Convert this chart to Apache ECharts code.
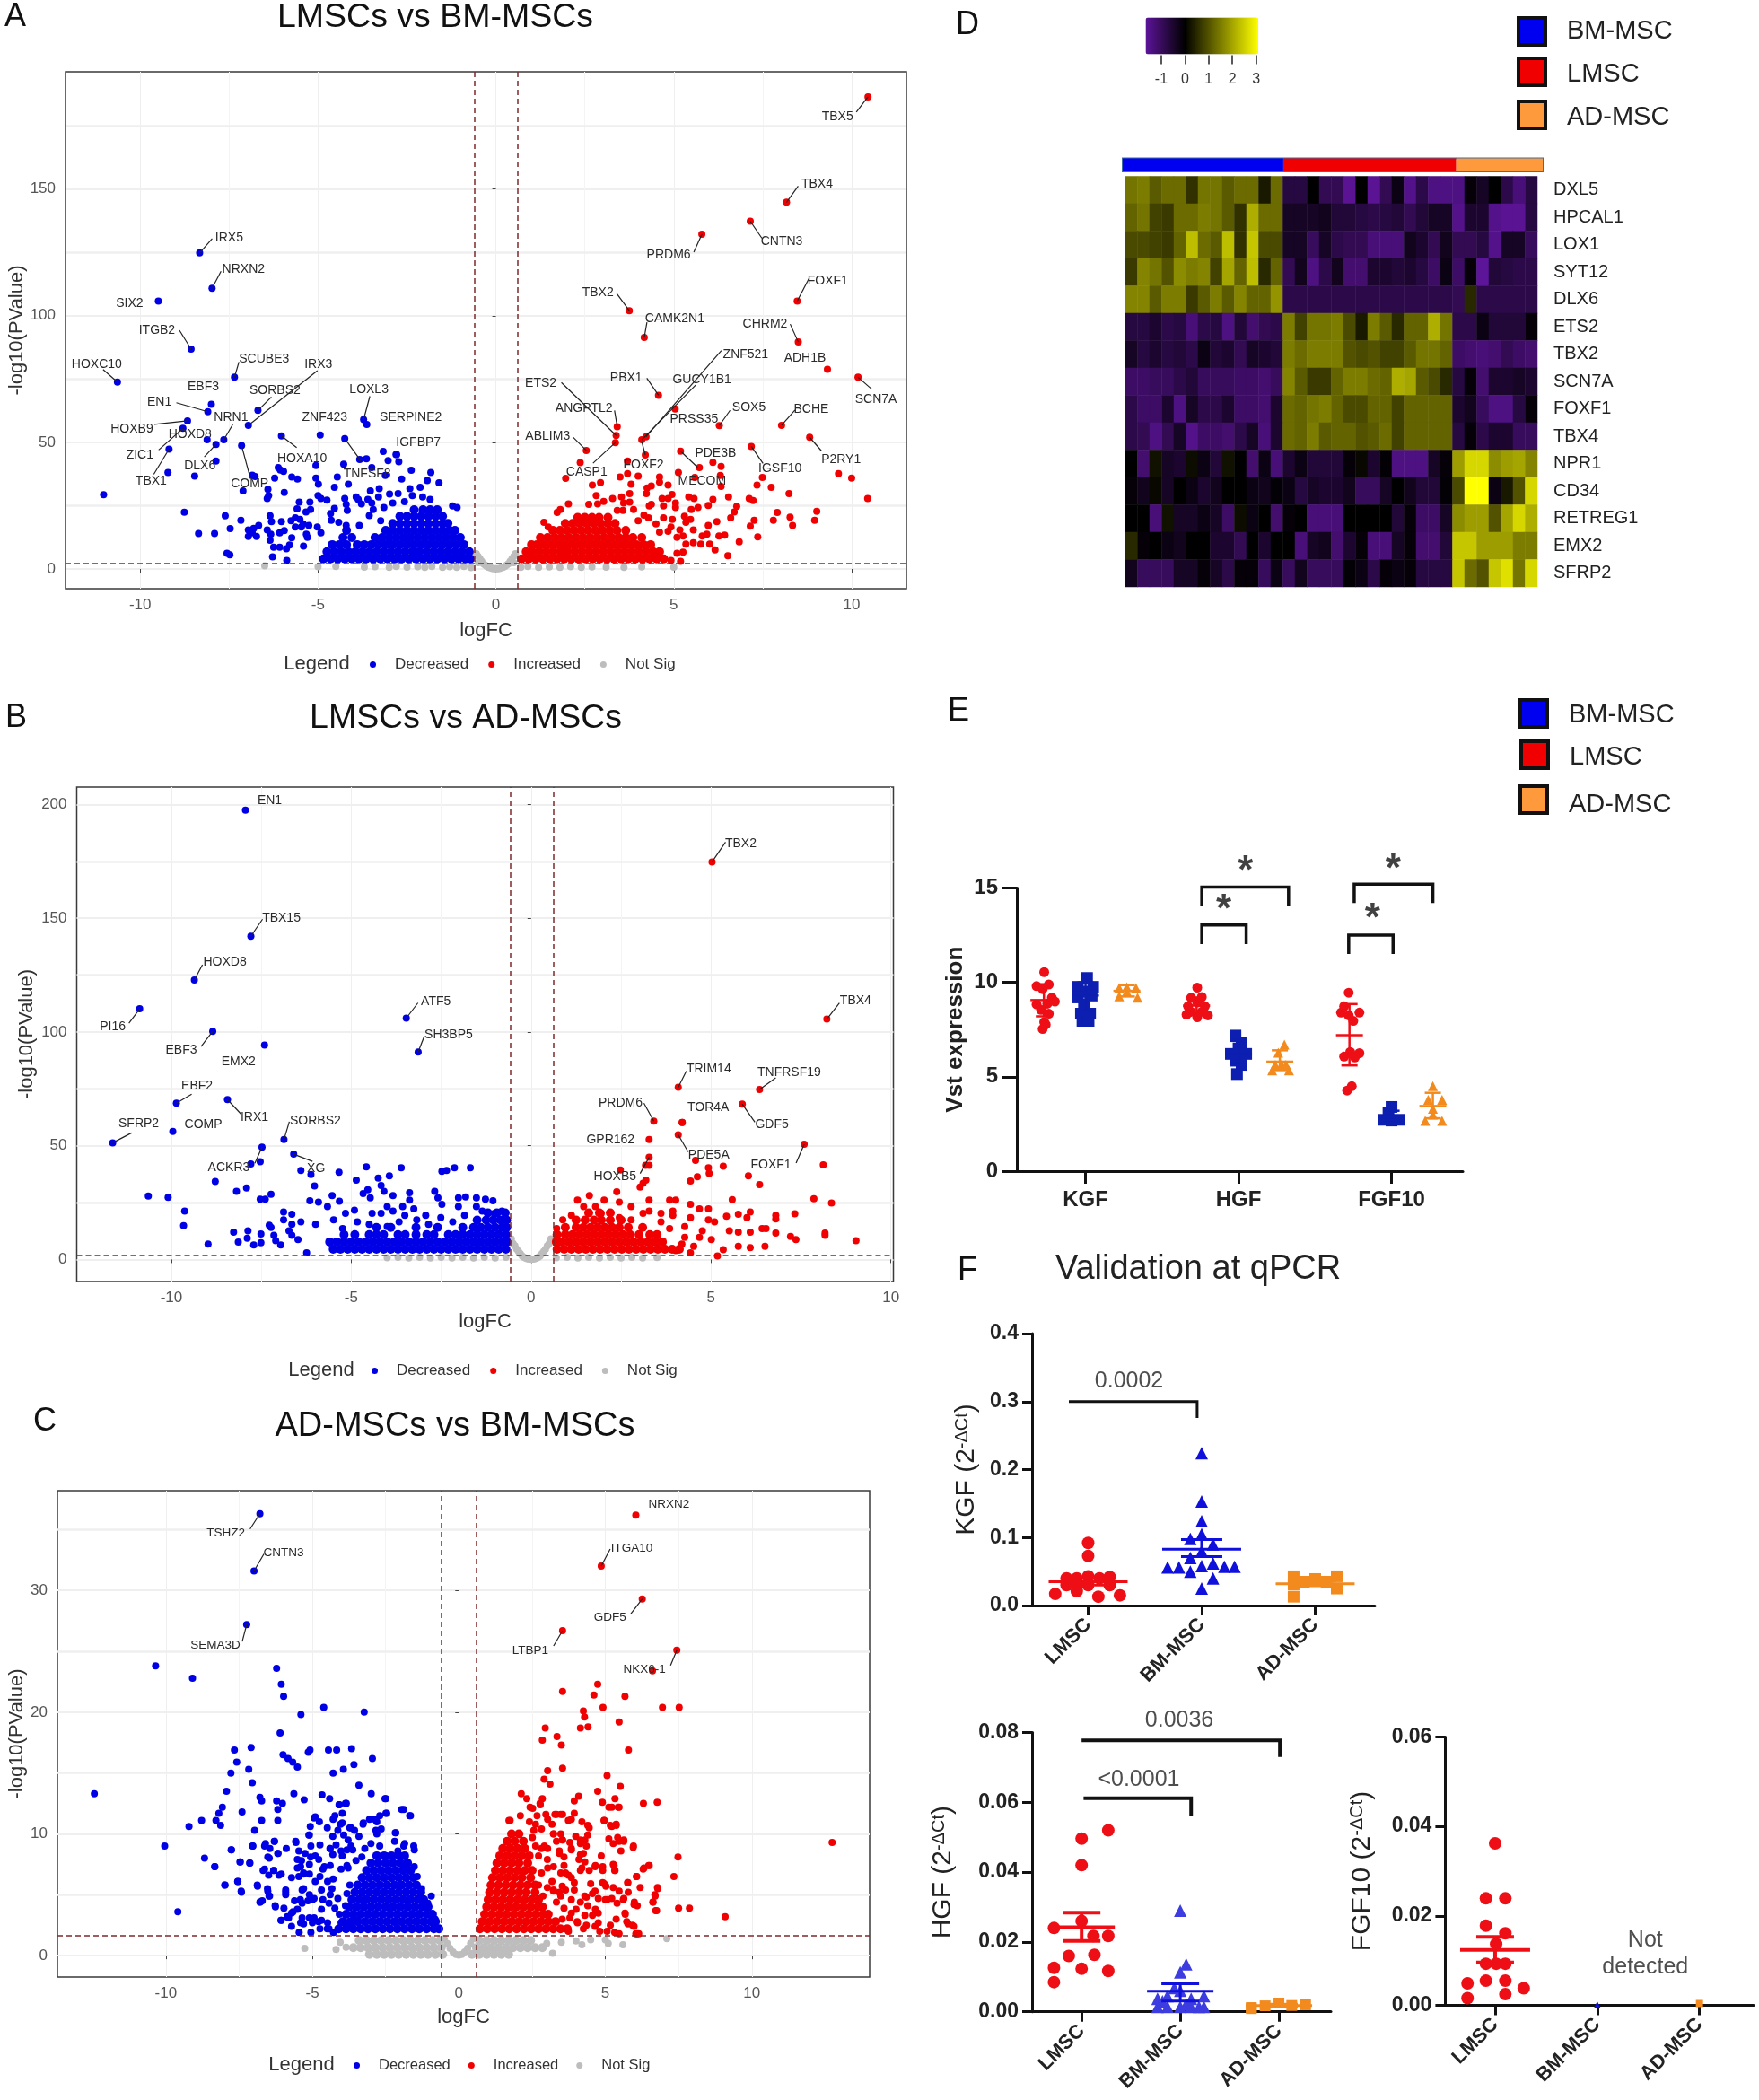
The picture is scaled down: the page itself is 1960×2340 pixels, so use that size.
<!DOCTYPE html>
<html>
<head>
<meta charset="utf-8">
<title>MSC volcano, heatmap and qPCR panels</title>
<script src="https://cdn.jsdelivr.net/npm/echarts@6/dist/echarts.min.js"></script>
<style>
body { margin: 0; background: #fff; }
#chart { width: 1960px; height: 2340px; }
</style>
</head>
<body>
<div id="chart"></div>
<script>
// ---- panel A: LMSCs vs BM-MSCs ----
const genesA = [['TBX5',10.46,186.4],['TBX4',8.17,144.8],['CNTN3',7.15,137.3],['PRDM6',5.79,132.2],['FOXF1',8.47,105.8],['TBX2',3.75,102],['CAMK2N1',4.17,91.4],['CHRM2',8.5,89.6],['ZNF521',4.22,52.2],['GUCY1B1',4.1,51],['PBX1',4.57,68.6],['ADH1B',9.32,78.8],['SCN7A',10.18,75.7],['ETS2',3.38,52.7],['ANGPTL2',3.41,56.2],['PRSS35',5.04,63.2],['SOX5',6.28,56.6],['BCHE',8.03,56.7],['ABLIM3',2.54,46.8],['CASP1',3.36,49.9],['FOXF2',4.2,45],['PDE3B',6.1,42.1],['MECOM',5.19,46.5],['IGSF10',7.18,48.4],['P2RY1',8.82,52],
  ['IRX5',-8.33,124.8],['NRXN2',-7.98,110.8],['SIX2',-9.49,105.8],['ITGB2',-8.57,86.8],['HOXC10',-10.64,73.8],['SCUBE3',-7.35,75.7],['EBF3',-8,65],['EN1',-8.1,62.1],['SORBS2',-6.69,62.6],['IRX3',-6.96,56.7],['NRN1',-7.65,51],['HOXB9',-8.67,58.5],['HOXD8',-8.12,51],['ZIC1',-8.8,55.5],['TBX1',-9.19,47.3],['DLX6',-7.87,49.2],['COMP',-7.15,48.7],['ZNF423',-4.94,52.9],['HOXA10',-6.03,52.5],['LOXL3',-3.72,59],['SERPINE2',-3.63,57],['IGFBP7',-2.81,45.2],['TNFSF8',-4.25,51.5]];
const labelPosA = {TBX5:[-34,22,-13,17],TBX4:[34,-20,13,-18],CNTN3:[35,23,13,19],PRDM6:[-37,23,-9,20],FOXF1:[34,-22,13,-25],TBX2:[-35,-20,-14,-19],CAMK2N1:[34,-21,3,-17],CHRM2:[-37,-20,-9,-20],ZNF521:[111,-92,84,-96],GUCY1B1:[67,-67,60,-61],PBX1:[-36,-19,-13,-19],ADH1B:[-25,-12],SCN7A:[20,25,15,13],ETS2:[-84,-58,-61,-59],ANGPTL2:[-37,-20,-3,-18],PRSS35:[21,12],SOX5:[33,-20,12,-17],BCHE:[33,-18,15,-17],ABLIM3:[-43,-16,-15,-15],CASP1:[-32,33,-25,23],FOXF2:[-2,11,-4,-15],PDE3B:[3,-10],MECOM:[24,33,19,18],IGSF10:[32,25,13,19],P2RY1:[35,25,13,15],
  IRX5:[33,-17,14,-16],NRXN2:[35,-21,10,-19],SIX2:[-32,3],ITGB2:[-38,-21,-13,-21],HOXC10:[-23,-20,-16,-14],SCUBE3:[33,-20,5,-17],EBF3:[-9,-19],EN1:[-54,-11,-35,-10],SORBS2:[19,-22,15,-15],IRX3:[78,-68,77,-61],NRN1:[8,-25,10,-17],HOXB9:[-62,9,-37,4],HOXD8:[-19,-6],ZIC1:[-48,30,-27,24],TBX1:[-20,36,-17,28],DLX6:[-18,24,-13,14],COMP:[9,43,10,37],ZNF423:[5,-20],HOXA10:[23,25,17,13],LOXL3:[6,-33,7,-26],SERPINE2:[49,-8],IGFBP7:[25,-13],TNFSF8:[25,39,18,25]};
const decA = [[-9.22,38.1],[-8.47,36.7],[-7.87,42.6],[-11.03,29.3],[-8.76,22.4],[-8.36,14],[-7.91,14],[-7.61,21],[-7.47,15.9],[-7.17,19.2],[-7.56,6.2],[-7.48,5.6],[-6.96,15.4],[-6.85,14.3],[-6.67,17.2],[-6.73,12.8],[-6.96,12.8],[-6.81,16],[-6.35,21],[-6.31,18.7],[-6.03,18.7],[-6.43,15.4],[-6.33,13.7],[-6.35,11.3],[-6.08,14.3],[-5.95,15.1],[-5.76,19],[-6.25,8.6],[-6.08,8.6],[-6.28,4.8],[-5.88,3.4],[-5.8,9.5],[-5.89,8],[-5.74,12.3],[-5.64,20.2],[-5.51,19.6],[-5.42,17.8],[-5.64,16.6],[-5.47,16.6],[-5.26,17.2],[-5.33,13.7],[-5.3,12.5],[-5.41,9],[-5.53,26.4],[-5.59,23.7],[-5.34,22.5],[-5.21,23.5],[-5.23,26.4],[-5.95,30.2],[-6.41,31.4],[-6.39,29],[-6.43,27.8],[-7.11,30.8],[-6.85,37],[-6.77,36.5],[-6.12,40],[-6.06,39.1],[-5.97,38.5],[-6.22,35.9],[-5.74,36.3],[-5.58,35.5],[-5.06,40.8],[-5.06,35.9],[-4.99,33.5],[-4.46,36.3],[-4.54,32.2],[-4.15,33.5],[-4.28,41.4],[-5,29],[-4.92,27.8],[-4.75,27.2],[-3.64,43.5],[-3.83,43.2],[-3.17,46.4],[-2.79,45.2],[-3.03,42.8],[-2.73,42.3],[-3.49,40],[-3.11,36.9],[-2.38,39],[-1.83,38.1],[-2.65,35.5],[-1.93,34.9],[-1.6,34],[-3.53,30.8],[-3.28,31.7],[-3.3,28.4],[-2.99,29.6],[-2.75,29.8],[-2.42,31.7],[-2.13,32.2],[-1.22,24.9],[-1.09,24.3],[-4.25,27.8],[-3.93,28.4],[-3.87,27.5],[-3.6,27.5],[-3.78,25.7],[-4.21,25.5],[-4.18,23.1],[-4.54,23.9],[-4.65,21.9],[-4.63,19.2],[-4.42,18.4],[-4.21,17.2],[-3.84,17.2],[-5.02,16.6],[-4.92,14.3],[-3.49,26],[-3.45,23.5],[-3.15,24.3],[-3.56,21.1],[-3.24,19],[-2.9,26],[-2.57,26.6],[-2.35,29],[-2.06,28.4],[-1.85,27.5]];
const decCoreA = [[4,-4.85,-4.65,-4.45,-4.25,-4.05,-3.85,-3.65,-3.45,-3.25,-3.05,-2.85,-2.65,-2.45,-2.25,-2.05,-1.85,-1.65,-1.45,-1.25,-1.05,-.85,-.72],[6.8,-4.75,-4.55,-4.35,-4.15,-3.95,-3.75,-3.55,-3.35,-3.15,-2.95,-2.75,-2.55,-2.35,-2.15,-1.95,-1.75,-1.55,-1.35,-1.15,-.95,-.75],[9.6,-4.6,-4.4,-4.2,-3.9,-3.7,-3.5,-3.3,-3.1,-2.9,-2.7,-2.5,-2.3,-2.1,-1.9,-1.7,-1.5,-1.3,-1.1,-.9],[12.4,-4.3,-4.05,-3.4,-3.2,-3,-2.8,-2.6,-2.4,-2.2,-2,-1.8,-1.6,-1.4,-1.2,-1],[15.2,-4.2,-3.1,-2.9,-2.7,-2.5,-2.3,-2.1,-1.9,-1.7,-1.5,-1.3,-1.15],[18,-2.9,-2.7,-2.5,-2.3,-2.1,-1.9,-1.7,-1.5,-1.35],[20.8,-2.7,-2.5,-2.3,-2.1,-1.9,-1.7,-1.5],[23.4,-2.3,-2.05,-1.85,-1.65]];
const incA = [[2.37,42],[1.96,35.8],[2.71,33.1],[2.94,34.1],[3.7,42.6],[3.7,37.6],[3.49,36.3],[4,36.7],[3.8,33.5],[4.6,36.3],[4.6,34.3],[4.84,33.1],[4.37,32.8],[4.25,32],[4.23,29.8],[3.76,29.8],[5.72,40],[6.33,40.5],[6.31,36.9],[5.59,36.1],[5.13,38.1],[6.33,32.6],[7.49,36.1],[7.34,33.1],[7.74,32.2],[8.24,29.8],[9.63,37.6],[10,35.9],[10.45,27.8],[6.54,28.4],[6.1,27.5],[5.97,25.1],[5.68,24.3],[5.49,23.5],[5.42,28.4],[5.57,27.8],[7.12,27.8],[7.23,27],[6.77,24.7],[6.7,22.5],[6.6,20.2],[7.26,19.2],[7.15,16.9],[7.91,22.3],[7.8,19.2],[8.27,20.5],[8.34,17.2],[9.02,22.8],[8.96,19.2],[7.36,12.7],[6.84,10.7],[6.21,18.7],[5.97,17.2],[5.93,13.7],[5.8,13],[6.27,13],[6.43,13.4],[6.16,7.5],[6.52,5.2],[5.55,15.4],[5.55,10.4],[5.76,9.8],[6.01,9.8],[5.34,9.8],[5.26,6.6],[5.09,6.2],[5.19,3],[4.92,3.4],[4.84,14.9],[4.96,19.6],[5.3,20.8],[5.47,19.6],[5.34,18.4],[4.71,20.2],[4.92,16.6],[5.09,12.5],[5.26,13],[5.17,15.4],[4.6,14.5],[4.84,27.8],[4.95,29.4],[5.05,26],[5.05,24.3],[4.67,27.8],[4.71,24.9],[4.37,25.5],[4.31,24.9],[3.76,26.4],[3.53,28.4],[3.59,26],[3.28,27.8],[3.03,26.7],[2.82,29],[2.61,25.5],[2.86,25.7],[2.04,25.7],[1.81,23.5],[1.72,22.3],[1.35,18.4],[1.47,16.6],[3.57,23.1],[3.41,23.1],[3.87,23.5],[4.16,21.3],[4.29,20.2],[4.5,17.8],[4,19]];
const incCoreA = [[4,.72,.92,1.12,1.32,1.52,1.72,1.92,2.12,2.32,2.52,2.72,2.92,3.12,3.32,3.52,3.72,3.92,4.12,4.32,4.52,4.72],[6.8,.85,1.02,1.22,1.42,1.62,1.82,2.02,2.22,2.42,2.62,2.82,3.02,3.22,3.42,3.62,3.82,4.02,4.22,4.42,4.6],[9.6,1,1.15,1.35,1.55,1.75,1.95,2.15,2.35,2.55,2.75,2.95,3.15,3.35,3.55,3.75,3.95,4.15,4.35],[12.4,1.25,1.45,1.65,1.85,2.05,2.25,2.45,2.65,2.85,3.05,3.25,3.45,3.65,3.85,4.1],[15.2,1.6,1.8,2,2.2,2.4,2.6,2.8,3,3.2,3.4,3.65],[18,1.95,2.15,2.35,2.55,2.75,2.95,3.15,3.35],[20.4,2.3,2.5,2.7,2.9,3.15]];
const notSigA = [[-.55,6],[-.5,5],[-.45,4],[-.5,2.5],[-.4,3],[-.35,2],[-.3,1.5],[-.25,1],[-.2,.6],[-.15,.4],[-.1,.2],[-.05,.1],[0,.1],[.05,.1],[.1,.2],[.15,.4],[.2,.6],[.25,1],[.3,1.5],[.35,2],[.4,3],[.45,4],[.5,5],[.55,6],[.5,2.5],[-6.5,1.2],[-5,.9],[-4.5,1],[-3.7,.7],[-3.4,.9],[-3,.6],[-2.8,1],[-2.5,.7],[-2.2,.9],[-2,.6],[-1.8,1],[-1.5,.6],[-1.3,.9],[-1.1,.6],[-.9,1],[-.7,.5],[.7,.6],[.9,1],[1.2,.6],[1.5,.8],[1.8,.6],[2.1,.9],[2.4,.6],[2.7,.8],[3.1,.7],[3.6,.6],[4.1,.8],[5,.7]];

// ---- panel B: LMSCs vs AD-MSCs ----
const genesB = [['EN1',-7.94,197.5],['TBX15',-7.79,142.1],['HOXD8',-9.36,122.9],['PI16',-10.88,110.2],['EBF3',-8.85,100.3],['EMX2',-7.41,94.3],['ATF5',-3.47,106.1],['SH3BP5',-3.14,91.2],['EBF2',-9.86,68.7],['IRX1',-8.44,70.3],['COMP',-9.96,56.3],['SFRP2',-11.63,51.3],['SORBS2',-6.87,52.7],['XG',-6.6,46.3],['ACKR3',-7.48,49.4],
  ['TBX2',5.03,174.8],['TBX4',8.22,105.7],['TRIM14',4.09,75.7],['TNFRSF19',6.35,74.7],['TOR4A',4.2,60.2],['GDF5',5.87,68.3],['PRDM6',3.41,60.8],['GPR162',3.28,52.7],['PDE5A',4.09,54.8],['FOXF1',7.59,50.7],['HOXB5',3.28,44.9]];
const labelPosB = {EN1:[27,-11],TBX15:[34,-20,13,-19],HOXD8:[34,-20,9,-17],PI16:[-30,20,-12,16],EBF3:[-35,21,-13,17],EMX2:[-29,19],ATF5:[33,-18,13,-17],SH3BP5:[34,-19,7,-18],EBF2:[23,-19,17,-10],IRX1:[30,20,15,16],COMP:[34,-8],SFRP2:[29,-21,21,-11],SORBS2:[35,-21,6,-20],XG:[25,16,21,8],ACKR3:[-37,23,-8,18],TBX2:[32,-20,15,-22],TBX4:[32,-20,14,-18],TRIM14:[34,-20,9,-18],TNFRSF19:[33,-19,18,-13],TOR4A:[29,-17],GDF5:[33,23,14,20],PRDM6:[-37,-20,-11,-20],GPR162:[-43,0],PDE5A:[34,23,11,19],FOXF1:[-37,23,-9,21],HOXB5:[-38,22,-10,18]};
const decB = [[-7.53,43],[-7.79,42],[-6.4,39.1],[-6.12,37.4],[-5.34,38.3],[-4.58,40.7],[-3.61,40.3],[-2.48,38.7],[-2.35,39.1],[-2.13,40.3],[-1.69,40.3],[-4.25,35.8],[-3.94,36.8],[-4.86,34.9],[-4.17,32.5],[-6.02,32.3],[-8.78,34.3],[-8.19,30],[-7.91,31.4],[-7.23,28.7],[-7.53,26.5],[-7.39,26.5],[-10.64,27.9],[-10.09,27.3],[-9.63,21.3],[-9.66,14.9],[-8.98,6.8],[-8.27,12],[-8.14,7.7],[-7.87,12.6],[-7.89,9.3],[-7.71,6.4],[-7.51,11.2],[-7.51,7.4],[-7.28,15.1],[-7.23,14.1],[-7.15,10.6],[-7.1,8.3],[-6.96,6.4],[-6.88,20.9],[-6.65,19.9],[-6.88,17.4],[-6.65,15.5],[-6.4,16.5],[-6.73,12.6],[-6.65,10.6],[-6.48,8.7],[-6.24,2.9],[-6.15,25.8],[-5.91,25.2],[-5.66,23.2],[-5.33,25.6],[-5.53,28.1],[-5.16,20.3],[-4.91,21.7],[-4.67,29],[-4.54,30.6],[-4.47,27.1],[-4.09,30],[-3.84,28.1],[-3.38,29.4],[-3.38,26.1],[-3.57,23.2],[-2.68,30],[-2.59,27.1],[-2.48,24.2],[-2.02,27.1],[-1.52,27.1],[-1.52,23.2],[-1.82,27.5],[-1.27,26.5],[-1.06,25.8],[-.81,21.3],[-4.83,16.5],[-4.42,20.3],[-4.17,20.3],[-4,23.2],[-3.84,21.3],[-3.26,22.3],[-3.51,19.4],[-2.93,19.4],[-3.18,17.4],[-2.85,15.5],[-2.51,18.4],[-2.18,16.5],[-1.85,19.4],[-1.36,21.3],[-1.02,20.3],[-2.02,23.2],[-5.99,15.5],[-5.49,17.4],[-5.24,13.6],[-4.5,15.5],[-4,14.5],[-3.67,16.5]];
const decCoreB = [[4.5,-5.5,-5.3,-5.1,-4.9,-4.7,-4.5,-4.3,-4.1,-3.9,-3.7,-3.5,-3.3,-3.1,-2.9,-2.7,-2.5,-2.3,-2.1,-1.9,-1.7,-1.5,-1.3,-1.1,-.9,-.7],[7.7,-5.6,-5.4,-5.2,-5,-4.8,-4.6,-4.4,-4.2,-4,-3.8,-3.6,-3.4,-3.2,-3,-2.8,-2.6,-2.4,-2.2,-2,-1.8,-1.6,-1.4,-1.2,-1,-.8,-.68],[10.9,-5.2,-4.9,-4.5,-4.3,-4.1,-3.7,-3.5,-3.2,-2.9,-2.7,-2.3,-2.1,-1.9,-1.7,-1.5,-1.3,-1.1,-.9,-.7],[14.1,-4.3,-3.9,-3.2,-2.6,-1.9,-1.6,-1.4,-1.2,-1,-.8,-.68],[17.3,-1.5,-1.25,-1.05,-.85,-.68],[20.5,-1.2,-.95,-.72]];
const incB = [[4.2,60.2],[3.28,41.4],[3.18,41.4],[2.48,39.3],[4.57,43.6],[4.93,40.3],[4.95,37.8],[5.34,41],[8.12,41.6],[6.04,36.8],[6.35,32.9],[4.62,36.4],[4.43,34.5],[3.19,34.9],[3.11,33.5],[3.03,31.8],[2.38,29.8],[5.59,26.3],[7.86,26.7],[8.35,24.8],[7.33,20.1],[6.8,19.4],[6.8,17.8],[6.09,20.9],[6,18.4],[5.76,19.9],[5.43,19],[4.93,22.3],[4.68,22.3],[4.43,24.2],[4.02,26.1],[3.85,26.1],[3.28,26.1],[6.8,11.6],[6.42,13.6],[6.53,13.6],[6.09,12],[5.76,12],[5.51,12.6],[7.21,10.1],[7.36,8.7],[8.17,11.6],[8.17,10.6],[9.03,8.3],[6.5,5.8],[6.09,5.2],[5.76,5.8],[5.34,4.3],[5.18,1.5],[5.01,8.7],[4.76,12.6],[5.1,16.5],[4.93,17.4],[4.43,18.4],[4.27,14.5],[3.94,19.4],[3.61,16.5],[3.28,21.3],[2.78,23.2],[2.45,25.2],[2.03,26.1],[1.62,28.1],[1.29,26.1],[1.79,23.2],[.88,17.4],[.71,13.6],[4.68,9.7],[4.52,5.8],[4.19,6.8],[4.43,2.9],[1.12,19.4],[1.46,23.2],[1.95,20.3],[2.45,18.4],[2.78,17.4],[3.11,20.3],[3.61,20.3],[3.94,21.3],[4.27,9.7],[3.85,13.6],[3.52,7.7],[4.02,3.9]];
const incCoreB = [[4.5,.72,.92,1.12,1.32,1.52,1.72,1.92,2.12,2.32,2.52,2.72,2.92,3.12,3.32,3.52,3.72,3.92,4.12],[7.7,.7,.85,1.05,1.25,1.45,1.65,1.85,2.05,2.25,2.45,2.65,2.85,3.05,3.25,3.45,3.65],[10.9,.72,.95,1.15,1.35,1.55,1.75,1.95,2.15,2.35,2.55,2.75,3,3.3,3.5],[14.1,.95,1.25,1.45,1.65,1.85,2.05,2.25,2.45,2.7,3.1],[17.3,1.25,1.5,1.75,1.95,2.2,2.5],[20.5,1.6,1.9,2.2]];
const notSigB = [[-.55,9],[-.5,7],[-.45,6],[-.4,4.5],[-.35,3.5],[-.3,2.5],[-.25,1.5],[-.2,1],[-.15,.6],[-.1,.3],[-.05,.2],[0,.1],[.05,.2],[.1,.3],[.15,.6],[.2,1],[.25,1.5],[.3,2.5],[.35,3.5],[.4,4.5],[.45,6],[.5,7],[.55,9],[-4,.8],[-3.7,1],[-3.4,.7],[-3.1,1],[-2.8,.7],[-2.5,1],[-2.2,.7],[-1.9,1],[-1.6,.7],[-1.3,1],[-1,.7],[-.7,1],[.7,.8],[1,1],[1.3,.7],[1.6,1],[1.9,.7],[2.2,1],[2.5,.7],[2.8,1],[3.1,.7],[3.5,.9]];

// ---- panel C: AD-MSCs vs BM-MSCs ----
const genesC = [['TSHZ2',-6.79,36.3],['CNTN3',-6.99,31.6],['SEMA3D',-7.24,27.2],['NRXN2',6.04,36.2],['ITGA10',4.86,32],['GDF5',6.26,29.3],['LTBP1',3.54,26.7],['NKX6-1',7.44,25.1]];
const labelPosC = {TSHZ2:[-38,22,-11,17],CNTN3:[33,-20,11,-19],SEMA3D:[-35,23,-5,19],NRXN2:[37,-12],ITGA10:[34,-20,10,-19],GDF5:[-36,21,-13,17],LTBP1:[-36,22,-10,17],'NKX6-1':[-36,22,-7,17]};
const decC = [[-10.35,23.8],[-9.09,22.8],[-6.22,23.6],[-6.06,22.3],[-5.98,21.3],[-4.61,20.4],[-5.39,19.8],[-3.23,20],[-6.1,18.3],[-7.66,16.9],[-7.09,17.1],[-7.58,15.9],[-7.17,15.3],[-7.78,15],[-7.05,14.2],[-7.93,13.5],[-12.44,13.3],[-6,16.5],[-5.83,16.2],[-5.67,15.9],[-5.51,15.5],[-5.14,16.7],[-5.08,16.9],[-4.45,16.9],[-4.17,16.9],[-3.66,17],[-3.58,15.7],[-4.29,15],[-3.94,15.3],[-2.95,16.2],[-3.41,14],[-2.99,13.3],[-2.52,12.9],[-5.63,13.3],[-5.28,12.8],[-4.67,13.2],[-4.41,12.9],[-3.84,12.5],[-4.09,12.4],[-1.95,12],[-1.65,11.5],[-6.79,13],[-6.73,12.7],[-6.22,12.7],[-6.02,12.5],[-6.18,12],[-6.73,11.1],[-6.18,11.1],[-8.07,12.2],[-8.19,11.7],[-8.29,11.1],[-8.78,11.1],[-8.13,10.7],[-9.21,10.6],[-7.4,11.8],[-6.97,10.3],[-10.04,9],[-7.76,8.7],[-7.03,9],[-6.63,9],[-6.3,9.4],[-8.68,8],[-8.33,7.3],[-7.46,7.7],[-7.13,7.6],[-6.52,8.1],[-6.18,8.4],[-6.63,7.1],[-6.32,7],[-6.06,6.7],[-7.99,5.8],[-7.54,6.1],[-7.42,5.2],[-6.87,5.7],[-6.71,4.5],[-6.79,4.4],[-6.52,5.3],[-6.46,4.9],[-6.26,4],[-9.59,3.6],[-6.06,2.9],[-5.91,5.2],[-5.81,3.1],[-5.57,9.4],[-5.1,9.9],[-4.9,11.4],[-4.49,10.5],[-4.29,11.2],[-4.04,10.8],[-3.68,10.5],[-3.27,10.8],[-2.87,11.2],[-2.46,11.7],[-2.83,10.3],[-2.15,10.1],[-1.54,9],[-1.85,9.2],[-5.51,7.9],[-5.1,7.5],[-5.3,6.8],[-4.9,8.2],[-4.59,7.3],[-5.71,6.4],[-5.3,5.5],[-4.9,6.1],[-4.39,8.8],[-4.29,6.3],[-5.41,4.6],[-5,4.6],[-5.51,3.8],[-5.1,3.1],[-4.69,3.8],[-5.71,3.5],[-5.3,2.6],[-4.79,2.8],[-4.49,2.2],[-4.39,5],[-3.98,8.2],[-3.68,9],[-3.78,7.2]];
const decFringeC = [[-5.45,1.9],[-5.71,2.4],[-6.07,2.9],[-5.86,3.2],[-5.66,3.6],[-5.97,3.9],[-5.35,3.1],[-5.4,2.7],[-5.05,1.9],[-5,2.7],[-4.94,3.1],[-4.69,2.9],[-4.48,2.7],[-4.28,1.9],[-4.74,2.2],[-4.43,2.2],[-4.02,2.7],[-4.08,3.4],[-4.23,3.9],[-4.13,4.7],[-4.43,4.3],[-4.64,4.6],[-4.94,4.7],[-5.15,4.5],[-5.35,4.3],[-5.1,5],[-5.35,5.4],[-5.91,5],[-5.91,5.4],[-5.61,4.5],[-6.27,4.1],[-6.78,4.4],[-6.48,4.9],[-6.53,5.5],[-4.74,6.5],[-4.48,6.1],[-4.33,5.5],[-4.69,5.4],[-5.1,6.7],[-5.3,6.7],[-5.46,6.5],[-5.4,7.3],[-5.51,7.2],[-5.37,7.8],[-4.64,7.1],[-4.39,7.4],[-4.02,7.1],[-3.82,7.4],[-3.51,7.8],[-3.31,8.1],[-4.02,8.6],[-3.82,8.7],[-3.62,8.7],[-4.3,8.3],[-4.4,8.8],[-4.19,9.1],[-5.05,9],[-4.74,9.1],[-5.56,9.3],[-5.46,8.6],[-5.25,8.4],[-5.06,8.1],[-4.78,7.9],[-3.21,8.8],[-3,9.2],[-2.7,9],[-2.49,8.2],[-2.08,8.6],[-1.88,9],[-1.52,8.7],[-2.19,9.4],[-2.17,10.1],[-3.41,9.8],[-3.72,10.5],[-3.56,10.3],[-3.26,10.9],[-3.05,11.2],[-2.8,11],[-2.65,10.4],[-2.8,10],[-3.93,9.9],[-3.78,9.5],[-4.3,9.8],[-4.13,10.3],[-3.98,10.9],[-5.07,10.6],[-5.12,9.9],[-4.76,11],[-4.94,11.3],[-4.23,11.5],[-3.98,11.7],[-4.08,12.4],[-3.87,12.5],[-1.68,11.5],[-1.88,12],[-2.49,12.9],[-2.7,11.5],[-2.49,11.7],[-1.88,7.3],[-1.52,7.3],[-1.42,6.5],[-1.27,5.5],[-.94,4.9],[-1.06,4.3],[-.81,3],[-3.72,5.8],[-3.82,5.1],[-3.87,4.1],[-3.82,3.4],[-3.72,2.5],[-3.51,2.9],[-6.68,7],[-6.32,7],[-6.14,6.6],[-6.49,6.6],[-7.04,9],[-6.6,9.2],[-6.45,8.8],[-6.29,9.4],[-6.17,8.4],[-5.89,8.8],[-6.47,8],[-7.14,7.6],[-7.47,7.7],[-7.55,6.1],[-7.98,5.8],[-7.43,5.3],[-6.88,5.8],[-7.77,8.7],[-8.33,7.3]];
const decCoreC = [[2.2,-4.1,-3.85,-3.6,-3.35,-3.1,-2.85,-2.6,-2.35,-2.1,-1.85,-1.6,-1.35,-1.1,-.85,-.68],[2.8,-3.95,-3.7,-3.45,-3.2,-2.95,-2.7,-2.45,-2.2,-1.95,-1.7,-1.45,-1.2,-.95,-.8],[3.4,-3.85,-3.6,-3.35,-3.1,-2.85,-2.6,-2.35,-2.1,-1.85,-1.6,-1.35,-1.1,-.9],[4,-3.75,-3.5,-3.25,-3,-2.75,-2.5,-2.25,-2,-1.75,-1.5,-1.25,-1.05],[4.6,-3.65,-3.4,-3.15,-2.9,-2.65,-2.4,-2.15,-1.9,-1.65,-1.4,-1.2],[5.2,-3.55,-3.3,-3.05,-2.8,-2.55,-2.3,-2.05,-1.8,-1.55,-1.3],[5.8,-3.45,-3.2,-2.95,-2.7,-2.45,-2.2,-1.95,-1.7,-1.45],[6.4,-3.3,-3.05,-2.8,-2.55,-2.3,-2.05,-1.8,-1.55],[7,-3.15,-2.9,-2.65,-2.4,-2.15,-1.9,-1.65],[7.6,-3,-2.75,-2.5,-2.25,-2,-1.75],[8.2,-2.8,-2.55,-2.3,-2.05,-1.85]];
const incC = [[6.61,23.4],[4.74,22.3],[3.54,21.7],[4.61,21.4],[5.67,21.3],[4.92,20.4],[6.95,20.4],[7.52,20.4],[4.25,20.1],[4.29,19.6],[5.47,19.2],[4.41,18.8],[4.15,18.7],[2.95,18.7],[3.35,18],[2.85,17.7],[3.5,17.3],[5.79,16.9],[3.54,15.4],[3.03,15.2],[2.91,14.5],[3.11,14.1],[5.06,14.8],[5.51,13.9],[4.74,13.5],[2.13,13.3],[2.32,12.9],[2.85,12.9],[4.09,13.1],[3.94,12.7],[4.9,12.6],[5.33,12.9],[6.77,12.6],[6.3,12.5],[5.22,12.2],[5.47,12.2],[2.78,12.4],[2.52,12.1],[3.33,11.6],[3.54,11.6],[3.03,11.2],[3.84,11.2],[1.71,11.1],[4.96,11.1],[5.22,10.6],[5.37,10.7],[4.45,10.5],[4.15,9.5],[3.23,10],[3.54,9.5],[5.12,9.6],[5.47,9.4],[5.63,9.5],[5.96,9],[12.74,9.3],[7.48,8.1],[3.84,8.8],[4.35,9],[4.15,8.3],[3.43,8.4],[3.03,8.8],[6.48,7.4],[6.32,7.2],[5.3,7.4],[5.33,7],[4.65,7.3],[4.15,7],[3.84,6.4],[6.06,6.5],[7.34,6.5],[5.77,6],[4.96,5.9],[6.79,5.5],[5.47,5.3],[4.65,5.3],[4.35,4.8],[5.06,4.6],[6.69,5],[6.63,4.4],[5.98,4.2],[5.61,4.6],[7.5,3.9],[7.87,3.9],[6.75,3.7],[9.09,3.2],[5.67,3.5],[4.76,3.5],[3.84,3.5],[5.77,2.6],[5.98,2.4],[5.47,1.8],[6.08,1.8],[4.65,2.4],[4.04,2.8],[5.06,2],[3.84,4.6],[3.23,5.3],[3.03,7.2],[2.62,9],[2.62,10.8]];
const incFringeC = [[3.74,2],[4.05,2.7],[4.35,2.5],[4.76,2.7],[5.17,2.5],[5.32,1.9],[4.81,2],[4.25,2.2],[4.56,3.3],[4.66,3.8],[4.3,3.3],[4,3.8],[4.15,4.4],[4.4,4.1],[4.3,4.9],[4.56,5.1],[4.76,4.7],[5,4.6],[5.22,4.7],[5.4,4.3],[5.63,4.7],[5.99,4.4],[6.09,4.1],[5.68,3.4],[5.37,3],[5.73,2.8],[5.93,2.5],[6.04,1.8],[6.14,1.8],[5.78,5.2],[5.76,6],[6.19,5.6],[6.07,6.5],[6.29,7.1],[6.5,7.4],[6.78,5.6],[6.7,4.9],[6.62,4.4],[6.72,3.7],[5.27,5.6],[4.91,6],[5.02,5.7],[4.5,5.9],[3.94,6],[3.94,5.4],[3.43,5.2],[3.64,5.4],[3.48,4.9],[3.23,5.4],[3.53,5.7],[3.33,4.4],[3.59,3.9],[3.79,3.1],[3.53,3],[3.64,6.8],[3.48,6.8],[3.23,7.3],[3.59,7.4],[3.74,6.6],[4.2,7.2],[4.45,7],[4.66,7.4],[4.91,7.3],[5.27,7.5],[5.32,7],[4.91,7],[4.1,7.9],[4.3,7.7],[3.59,8.1],[3.43,8.6],[3.84,8.7],[4.25,8.4],[4.86,8.2],[5.53,8.6],[5.95,8.9],[5.63,9.4],[5.27,9.2],[5.42,9.7],[4.15,9.2],[4.3,9.5],[3.99,9.8],[3.79,9.3],[3.53,9.5],[3.33,9.4],[3.48,10],[3.23,10],[2.82,8.8],[2.92,9],[3.02,7.9],[2.72,8.2],[4.4,9.9],[4.4,10.7],[4.2,11],[3.74,11.1],[3.94,11.7],[3.48,11.6],[3.28,11.6],[3.18,10.8],[2.97,11.6],[2.67,11.5],[2.41,11],[2.1,11.5],[1.75,11.1],[2.82,10.4],[2.51,9.7],[2.56,10.3],[4.96,11.1],[5.17,10.7],[5.37,10.8],[5.12,12.2],[5.44,12.2],[2.43,12.2],[2.77,12.5],[3.18,6.1],[2.82,6.8],[2.72,5.8],[2.87,4.9],[3.02,5.6]];
const incCoreC = [[2.2,.72,.97,1.22,1.47,1.72,1.97,2.22,2.47,2.72,2.97,3.22,3.47,3.7],[2.8,.8,1.05,1.3,1.55,1.8,2.05,2.3,2.55,2.8,3.05,3.3],[3.4,.88,1.13,1.38,1.63,1.88,2.13,2.38,2.63,2.88,3.05],[4,.95,1.2,1.45,1.7,1.95,2.2,2.45,2.7,2.85],[4.6,1,1.25,1.5,1.75,2,2.25,2.5,2.72],[5.2,1.05,1.3,1.55,1.8,2.05,2.3,2.6],[5.8,1.1,1.35,1.6,1.85,2.1,2.35,2.6],[6.4,1.15,1.4,1.65,1.9,2.15,2.45],[7,1.25,1.5,1.75,2,2.25,2.5],[7.6,1.3,1.55,1.8,2.05,2.35],[8.2,1.4,1.65,1.9,2.15,2.4],[8.8,1.5,1.75,2,2.25],[9.4,1.65,1.9,2.2],[10,1.8,2.05]];
const notSigC = [[-5.26,.6],[-4.19,.5],[-4.05,1.1],[-3.85,.7],[-.5,1.4],[-.4,1],[-.3,.6],[-.2,.3],[-.1,.1],[0,.05],[.1,.1],[.2,.3],[.3,.6],[.4,1],[.5,1.4],[3,1],[3.5,1.1],[3.2,.2],[4,1.2],[4.2,.9],[4.5,1.3],[5,1.3],[5.1,1],[5.6,.9],[7.1,1.4]];
const notSigCoreC = [[1.25,-3.4,-3.15,-2.9,-2.65,-2.4,-2.15,-1.9,-1.65,-1.4,-1.15,-.9,-.65,.7,.95,1.2,1.45,1.7,1.95,2.2,2.45],[.65,-3.6,-3.35,-3.1,-2.85,-2.6,-2.35,-2.1,-1.85,-1.6,-1.35,-1.1,-.85,-.6,.6,.85,1.1,1.35,1.6,1.85,2.1,2.35,2.6,2.85],[.1,-3.05,-2.8,-2.55,-2.3,-2.05,-1.8,-1.55,-1.3,-1.05,-.8,-.55,.45,.7,.95,1.2,1.45,1.7]];

// ---- panel D: heatmap ----
const heatGenes = ['DXL5','HPCAL1','LOX1','SYT12','DLX6','ETS2','TBX2','SCN7A','FOXF1','TBX4','NPR1','CD34','RETREG1','EMX2','SFRP2'];
const heatGroups = ['BM-MSC','LMSC','AD-MSC'];
const heatGroupSizes = [13,14,7];
const heatRows = [
  [1.4,1.5,1.1,1.3,1.3,.6,1.4,1.4,1.1,1.3,1.3,.3,1.3, -.7,-.7,0,-.9,-.9,-1.6,0,-1.6,-.9,-.2,-1.5,-.8,-1.4,-1.4, -1.4,-.1,-.4,0,-.8,-1.3,-.7],
  [1.2,1.4,.8,.7,1.3,1.3,1.5,1.4,1.1,.6,2.1,1.3,1.3, -.4,-.4,-.4,-.3,-.6,-.6,-.7,-.8,-.7,-.6,-.9,-.6,-.4,-.4, -1.5,-.5,-.5,-1.5,-1.6,-1.6,-.7],
  [.9,.9,.8,.7,1.2,2.3,1.3,1.1,2.3,.6,2.4,.9,.9, -.4,-.4,-1,-.4,-.8,-.9,-.9,-1.3,-1.3,-1.3,-.3,-.5,-.9,-.3, -.9,-.9,-.7,-1.5,-.4,-.4,-1],
  [.7,1.6,1.4,1,1.7,1.5,1.6,.8,2,1.2,2.3,.5,1.2, -.9,-.3,-1.4,-.8,-.3,-1.2,-1.2,-.5,-.5,-.6,-.5,-.7,-1.1,-.2, -1.1,-.1,-1.7,-.6,-.7,-.8,-.8],
  [1.6,1.6,1.1,1.5,1.5,.7,1.1,1.5,1.1,1.6,1.2,1.2,1.8, -.8,-.8,-.8,-.8,-.8,-.8,-.8,-.8,-.8,-.8,-.8,-.8,-.8,-.8, -.9,.5,-.8,-.8,-.8,-.8,-.8],
  [-.7,-.7,-.5,-.8,-.7,-1.3,-.8,-.7,-1.4,-.6,-1.2,-.9,-.8, 1.5,.8,1.4,1.4,1.5,.9,.3,1.5,1.1,.5,1.2,1.2,2.1,1.4, -.8,-.8,-.2,-.6,-.6,-.6,-.1],
  [-.4,-.7,-.5,-.7,-.6,-.8,-.2,-.6,-.5,-.9,-.4,-.5,-.6, 1.5,1.3,1.5,1.5,1.5,1,.9,1,.8,.8,1.1,1.4,1.4,1.2, -1.1,-1.2,-1.3,-1.2,-.9,-1.1,-1.2],
  [-1.1,-1.1,-1,-1,-.8,-.6,-1,-1,-1,-1.1,-1.1,-1.2,-1, 1.6,1.1,.7,.7,1.2,1.5,1.5,1.3,1.2,2.1,2,1.1,.9,.5, -.7,-.1,-1.2,-.5,-.5,-.4,-.5],
  [-.8,-1.1,-1.1,-.5,-1.4,-.4,-.8,-.8,-.5,-1.1,-1.1,-1.2,-.5, 1.3,1.2,1.4,1.5,1.2,.9,.9,1.2,1.2,.8,1.2,1.2,1.2,1.2, -.5,-.3,-1,-1.4,-1.4,-.7,-.1],
  [-.8,-.9,-1.4,-.9,-.4,-1.5,-1.1,-1.1,-1.2,-.8,-.4,-1.3,-.5, 1.3,1.2,1.5,1.1,1.2,1.2,1,1.1,1.3,.8,1.2,1.2,1.2,1.2, -.7,-.1,-.8,-.5,-.5,-1,-1],
  [0,-1.2,.2,-.4,-.5,.15,-.2,-.6,.2,0,-1.2,-.2,-1.3, -.5,-.2,-.6,-.6,-.6,-.1,.1,-.5,-.05,-1.4,-1.4,-1.4,-.4,-.1, 1.9,2.6,2.6,1.7,1.9,2,1.6],
  [-.1,-.3,.1,-.4,0,-.2,-.5,-.3,0,0,-.2,-.3,-.05, -.2,-.7,-.4,-.5,-.5,-.3,-1,-1,-.4,0,-.3,-.6,-.6,-.05, .9,3.09,3.09,-.2,.3,1,2.6],
  [0,0,-1.3,.2,-.4,-.4,-.2,-.4,-1.1,.15,-.2,0,-1.2, -.1,0,-1.3,-1.3,-1.3,0,0,0,0,-.6,-.1,-1.1,-1.1,-.4, 1.7,1.9,1.9,1,2,2.6,2.1],
  [.5,-.1,0,-.2,-.3,0,0,-.5,-.5,-.9,0,-.5,0, 0,-1.3,-.4,-.3,-1.2,-.5,-.1,-1.3,-1.3,-.4,-.1,-1.2,-1.2,-.6, 2.4,2.4,1.9,1.9,1.9,1.5,1.5],
  [-.3,-1,-1,-1,-.4,-.4,-.1,-.4,-.8,-.1,-.1,-1,-.2, -1,-.3,-1,-1,-1,-.05,-.2,-.8,-.1,-.2,-.1,-.7,-.7,-.7, 2.4,1.3,1,2.4,2.7,1.4,2.6]
];
const heatTicks = [-1,0,1,2,3];

// ---- panel E: Vst expression, [group position, value] ----
const vstGroups = ['KGF','HGF','FGF10'];
const vstLmsc = [[.73,10.54],[.68,9.8],[.76,9.88],[.72,9.64],[.78,9.18],[.68,8.83],[.75,8.87],[.8,8.98],[.71,8.54],[.76,8.34],[.73,7.9],[.74,7.76],[.72,7.53],[1.73,9.72],[1.69,9.18],[1.76,9.22],[1.73,8.93],[1.67,8.73],[1.78,8.73],[1.69,8.44],[1.76,8.44],[1.73,8.15],[1.8,8.25],[1.66,8.29],[2.72,9.45],[2.69,8.73],[2.67,8.4],[2.79,8.4],[2.72,8.25],[2.75,7.96],[2.73,6.31],[2.79,6.25],[2.69,6.07],[2.76,6.02],[2.74,4.5],[2.71,4.27]];
const vstBm = [[1.01,10.23],[.95,9.76],[1.05,9.76],[1,9.5],[.95,9.2],[1.04,9.3],[.99,8.83],[1.03,8.34],[.97,8.34],[.98,7.96],[1.02,7.96],[1.98,7.18],[2.02,6.79],[1.95,6.21],[2.05,6.21],[2,6.5],[1.98,5.92],[2.02,5.63],[1.99,5.14],[3,3.4],[2.98,3.1],[2.95,2.72],[3,2.68],[3.05,2.72]];
const vstAd = [[1.22,9.7],[1.27,9.74],[1.33,9.7],[1.22,9.26],[1.34,9.18],[1.27,9.5],[2.3,6.7],[2.26,6.27],[2.22,5.34],[2.33,5.34],[2.28,5.63],[2.24,5.63],[2.31,5.63],[3.27,4.5],[3.24,3.78],[3.33,3.78],[3.27,3.3],[3.22,2.66],[3.33,2.66],[3.27,3]];
// [position, mean, low, high]
const vstErrLmsc = [[.728,9.06,8.2,9.9],[1.726,8.77,8.35,9.2],[2.725,7.2,5.6,8.85]];
const vstErrBm = [[1,9.3,8.5,10],[2,6.2,5.6,6.9],[3,2.9,2.7,3.2]];
const vstErrAd = [[1.27,9.55,9.25,9.85],[2.27,5.8,5.35,6.4],[3.27,3.45,2.8,4.15]];
const vstBrackets = [[[1.76,14.07],[1.76,15.04],[2.327,15.04],[2.327,14.07]],[[1.76,12.03],[1.76,13.04],[2.05,13.04],[2.05,12.03]],[[2.756,14.2],[2.756,15.2],[3.27,15.2],[3.27,14.2]],[[2.72,11.5],[2.72,12.5],[3.01,12.5],[3.01,11.5]]];
const vstStars = [[2.045,15.85,'*'],[1.904,13.8,'*'],[3.01,15.95,'*'],[2.875,13.3,'*']];

// ---- panel F: qPCR ----
const qpcrGroups = ['LMSC','BM-MSC','AD-MSC'];
const kgfLmsc = [[1,.092],[1,.073],[.81,.04],[.9,.04],[1,.043],[1.1,.04],[1.19,.042],[.71,.017],[.9,.021],[1.09,.013],[1.28,.015],[.81,.03],[1,.03],[1.19,.03],[.9,.03]];
const kgfBm = [[2,.224],[2,.153],[2,.124],[2,.105],[1.9,.098],[2.1,.09],[2,.08],[1.7,.056],[1.8,.056],[1.9,.07],[2,.058],[2.1,.062],[2.2,.057],[2.29,.057],[1.9,.05],[2.1,.04],[2,.025]];
const kgfAd = [[2.81,.043],[2.81,.013],[3,.039],[2.9,.035],[3.1,.035],[3.19,.043],[3.19,.025],[2.81,.031]];
const kgfErr = [[1,.035,.03,.04],[2,.083,.072,.097],[3,.032,.029,.036]];
const kgfBrackets = [[[.83,.3],[1.96,.3],[1.96,.276]]];
const kgfNotes = [[1.36,.33,'0.0002']];

const hgfLmsc = [[1.27,.052],[1,.0496],[1,.042],[.72,.024],[1,.026],[1.27,.0217],[1.12,.0217],[.87,.016],[1.13,.0163],[.72,.0126],[1,.0123],[1.27,.0117],[.72,.0085]];
const hgfBm = [[2,.029],[2.06,.0136],[2,.0113],[1.77,.0014],[1.87,.0014],[2,.0014],[2.11,.0014],[2.24,.0014],[1.77,.0037],[1.87,.0045],[2,.006],[2.11,.0037],[2.24,.0045],[1.82,.003],[1.94,.0068],[2.06,.0022],[2.19,.0014]];
const hgfAd = [[2.72,.0012],[2.86,.0017],[3,.0025],[3.13,.0018],[3.27,.002],[2.72,.0009]];
const hgfErr = [[1,.0242,.0203,.0284],[2,.0059,.0031,.008],[3,.0018,.0014,.0022]];
const hgfBrackets = [[[1,.0778],[3.01,.0778],[3.01,.073]],[[1.02,.0612],[2.11,.0612],[2.11,.0561]]];
const hgfNotes = [[1.99,.0835,'0.0036'],[1.58,.0664,'<0.0001']];

const fgfLmsc = [[1,.0362],[.91,.0239],[1.1,.0239],[.91,.0178],[1.1,.0161],[1.01,.0137],[.91,.0093],[1.1,.0093],[1.01,.0093],[.73,.0049],[.91,.0055],[1.1,.0055],[1.28,.0038],[1.1,.0025],[.73,.0016]];
const fgfBm = [[2,.0002]];
const fgfAd = [[3,.0004]];
const fgfErr = [[1,.0124,.0096,.0153]];
const fgfNotes = [[2.47,.0145,'Not'],[2.47,.0085,'detected']];

// ---- helpers ----
const FONT = '"Liberation Sans", Arial, sans-serif';
const RED = '#ee0f16', BLUE = '#1010dc', ORANGE = '#f28a1e';
const grids = [], xAxes = [], yAxes = [], series = [], graphics = [];

function unrow(rows) {
  return rows.flatMap(([y, ...xs]) => xs.map(x => [x, y]));
}

function label(text, x, y, size, opt) {
  graphics.push({type: 'text', x: x, y: y, silent: true, style: Object.assign({text: text, fontSize: size, fontFamily: FONT, fill: '#111', textAlign: 'center', textVerticalAlign: 'middle'}, opt || {})});
}

function keyBox(x, y, w, h, color, text, dy) {
  graphics.push({type: 'rect', silent: true, shape: {x: x, y: y, width: w, height: h}, style: {fill: color, stroke: '#111', lineWidth: 4}});
  label(text, x + w + 24, y + h / 2 + (dy || 0), 29, {textAlign: 'left', fill: '#222'});
}

function geneSeries(idx, genes, pos, size) {
  return {
    type: 'custom', xAxisIndex: idx, yAxisIndex: idx, z: 7, silent: true, encode: {x: 0, y: 1},
    data: genes.map(g => [g[1], g[2]]),
    renderItem: function(params, api) {
      const g = genes[params.dataIndex], o = pos[g[0]];
      const c = api.coord([api.value(0), api.value(1)]);
      const kids = [{type: 'text', x: c[0] + o[0], y: c[1] + o[1], style: {text: g[0], fontSize: size, fontFamily: FONT, fill: '#2a2a2a', textAlign: 'center', textVerticalAlign: 'middle'}}];
      if (o.length > 2) {
        kids.push({type: 'line', shape: {x1: c[0], y1: c[1], x2: c[0] + o[2], y2: c[1] + o[3]}, style: {stroke: '#222', lineWidth: 1.2}});
      }
      return {type: 'group', children: kids};
    }
  };
}

function volcano(p) {
  const i = grids.length;
  grids.push({left: p.box[0], top: p.box[1], width: p.box[2], height: p.box[3], show: true, backgroundColor: '#fff', borderColor: '#3a3a3a', borderWidth: 1.5});
  xAxes.push({
    gridIndex: i, type: 'value', min: p.xr[0], max: p.xr[1], name: 'logFC', nameLocation: 'middle', nameGap: p.xGap,
    nameTextStyle: {fontSize: 22, color: '#333', fontFamily: FONT},
    axisLine: {show: false}, axisTick: {length: 4, customValues: p.xTicks, lineStyle: {color: '#444'}},
    axisLabel: {customValues: p.xTicks, fontSize: 17, color: '#555', fontFamily: FONT, margin: 10},
    splitLine: {show: true, lineStyle: {color: '#efefef', width: 1}}
  });
  yAxes.push({
    gridIndex: i, type: 'value', min: p.yr[0], max: p.yr[1], name: '-log10(PValue)', nameLocation: 'middle', nameGap: p.yGap,
    nameTextStyle: {fontSize: 22, color: '#333', fontFamily: FONT},
    axisLine: {show: false}, axisTick: {length: 4, customValues: p.yTicks, lineStyle: {color: '#444'}},
    axisLabel: {customValues: p.yTicks, fontSize: 17, color: '#555', fontFamily: FONT, margin: 11},
    splitLine: {show: true, lineStyle: {color: '#efefef', width: 2}}
  });
  const marks = (v, k, st, z) => ({silent: true, symbol: 'none', z: z, label: {show: false}, lineStyle: st, data: v.map(a => ({[k]: a}))});
  // minor gridlines
  series.push({type: 'scatter', xAxisIndex: i, yAxisIndex: i, data: [], markLine: marks(p.xMinor, 'xAxis', {color: '#f4f4f4', width: 1, type: 'solid'}, 1)});
  series.push({type: 'scatter', xAxisIndex: i, yAxisIndex: i, data: [], markLine: marks(p.yMinor, 'yAxis', {color: '#efefef', width: 2.5, type: 'solid'}, 1)});
  const decGenes = p.genes.filter(g => g[1] < 0).map(g => [g[1], g[2]]);
  const incGenes = p.genes.filter(g => g[1] > 0).map(g => [g[1], g[2]]);
  const point = (name, z, size, color, data) => series.push({name: name, type: 'scatter', xAxisIndex: i, yAxisIndex: i, z: z, symbolSize: size, itemStyle: {color: color, opacity: 1}, data: data});
  if (p.notSigCore) point('Not Sig', 2, 10, '#bdbdbd', unrow(p.notSigCore));
  point('Not Sig', 2, 8, '#bdbdbd', p.notSig);
  point('Decreased', 3, 10, '#0000e6', unrow(p.decCore));
  point('Decreased', 3, 8, '#0000e6', p.dec.concat(decGenes));
  point('Increased', 3, 10, '#f00000', unrow(p.incCore));
  point('Increased', 3, 8, '#f00000', p.inc.concat(incGenes));
  // cutoffs
  const dash = {color: '#7c2a2a', width: 1.5, type: [6, 4]};
  series.push({type: 'scatter', xAxisIndex: i, yAxisIndex: i, data: [], markLine: marks(p.vCut, 'xAxis', dash, 6)});
  series.push({type: 'scatter', xAxisIndex: i, yAxisIndex: i, data: [], markLine: marks([p.hCut], 'yAxis', dash, 6)});
  series.push(geneSeries(i, p.genes, p.pos, p.labelSize));
}

function dotAxes(p) {
  const i = grids.length;
  grids.push({left: p.box[0], top: p.box[1], width: p.box[2], height: p.box[3]});
  const line = {show: true, onZero: false, lineStyle: {color: '#111', width: 3}};
  const names = p.groups;
  xAxes.push({
    gridIndex: i, type: 'value', min: p.xr[0], max: p.xr[1], axisLine: line, splitLine: {show: false},
    axisTick: {length: p.tickX, customValues: [1, 2, 3], lineStyle: {color: '#111', width: 3}},
    axisLabel: {customValues: [1, 2, 3], formatter: v => names[Math.round(v) - 1], fontWeight: 'bold', fontSize: p.xFont, color: '#222', fontFamily: FONT, rotate: p.rotate || 0, margin: p.xMargin}
  });
  yAxes.push({
    gridIndex: i, type: 'value', min: p.yr[0], max: p.yr[1], interval: p.yStep, axisLine: line, splitLine: {show: false},
    axisTick: {length: p.tickY, lineStyle: {color: '#111', width: 3}},
    axisLabel: {formatter: v => v.toFixed(p.digits), fontWeight: 'bold', fontSize: p.yFont, color: '#222', fontFamily: FONT, margin: p.yMargin},
    name: p.yName, nameLocation: 'middle', nameGap: p.yGap,
    nameTextStyle: p.nameStyle
  });
  return i;
}

function dots(i, data, symbol, size, color) {
  series.push({type: 'scatter', xAxisIndex: i, yAxisIndex: i, symbol: symbol, symbolSize: size, clip: false, z: 3, itemStyle: {color: color, opacity: 1}, data: data});
}

function errorBars(i, rows, color, half, cap, width) {
  series.push({
    type: 'custom', xAxisIndex: i, yAxisIndex: i, z: 4, silent: true, encode: {x: 0, y: 1},
    data: rows,
    renderItem: function(params, api) {
      const x = api.value(0);
      const m = api.coord([x, api.value(1)]), lo = api.coord([x, api.value(2)]), hi = api.coord([x, api.value(3)]);
      const seg = (x1, y1, x2, y2) => ({type: 'line', shape: {x1: x1, y1: y1, x2: x2, y2: y2}, style: {stroke: color, lineWidth: width}});
      return {type: 'group', children: [
        seg(m[0] - half, m[1], m[0] + half, m[1]),
        seg(m[0], lo[1], m[0], hi[1]),
        seg(m[0] - cap, lo[1], m[0] + cap, lo[1]),
        seg(m[0] - cap, hi[1], m[0] + cap, hi[1])
      ]};
    }
  });
}

function brackets(i, rows, width) {
  rows.forEach(r => {
    series.push({type: 'line', xAxisIndex: i, yAxisIndex: i, clip: false, z: 5, symbol: 'none', silent: true, lineStyle: {color: '#111', width: width, join: 'miter'}, data: r});
  });
}

function notes(i, rows, style) {
  series.push({
    type: 'scatter', xAxisIndex: i, yAxisIndex: i, clip: false, z: 6, symbolSize: 0, silent: true,
    data: rows,
    label: Object.assign({show: true, position: 'inside', formatter: p => p.value[2], fontFamily: FONT, color: '#222'}, style)
  });
}

// ---- volcano panels ----
volcano({box: [73, 80, 937, 576], xr: [-12.1, 11.54], yr: [-7.8, 196.3], xGap: 36, yGap: 43,
  xTicks: [-10, -5, 0, 5, 10], yTicks: [0, 50, 100, 150], xMinor: [-7.5, -2.5, 2.5, 7.5], yMinor: [25, 75, 125, 175],
  vCut: [-.59, .6], hCut: 2.3, genes: genesA, pos: labelPosA, labelSize: 14,
  dec: decA, decCore: decCoreA, inc: incA, incCore: incCoreA, notSig: notSigA});
volcano({box: [85.5, 877, 910, 551], xr: [-12.63, 10.07], yr: [-9.7, 207.7], xGap: 34, yGap: 45,
  xTicks: [-10, -5, 0, 5, 10], yTicks: [0, 50, 100, 150, 200], xMinor: [-7.5, -2.5, 2.5, 7.5], yMinor: [25, 75, 125, 175],
  vCut: [-.58, .61], hCut: 1.74, genes: genesB, pos: labelPosB, labelSize: 14,
  dec: decB, decCore: decCoreB, inc: incB, incCore: incCoreB, notSig: notSigB});
volcano({box: [64, 1661, 905, 542], xr: [-13.7, 14.02], yr: [-1.76, 38.2], xGap: 34, yGap: 33,
  xTicks: [-10, -5, 0, 5, 10], yTicks: [0, 10, 20, 30], xMinor: [-7.5, -2.5, 2.5, 7.5], yMinor: [5, 15, 25, 35],
  vCut: [-.59, .61], hCut: 1.65, genes: genesC, pos: labelPosC, labelSize: 13.5,
  dec: decC.concat(decFringeC), decCore: decCoreC, inc: incC.concat(incFringeC), incCore: incCoreC, notSig: notSigC, notSigCore: notSigCoreC});

label('A', 17, 19, 36);
label('LMSCs vs BM-MSCs', 485, 20, 37.5);
label('Legend', 353, 740, 22, {fill: '#333'});
label('B', 18, 800, 36);
label('LMSCs vs AD-MSCs', 519, 801, 37.5);
label('Legend', 358, 1527, 22, {fill: '#333'});
label('C', 50, 1584, 36);
label('AD-MSCs vs BM-MSCs', 507, 1590, 38);
label('Legend', 336, 2301, 22, {fill: '#333'});

const legendItem = (left, top, gap, size) => ({
  left: left, top: top, data: ['Decreased', 'Increased', 'Not Sig'], icon: 'circle', itemWidth: 7, itemHeight: 7, itemGap: gap,
  selectedMode: false, padding: 0, textStyle: {fontSize: size, color: '#333', fontFamily: FONT, padding: [0, 0, 0, 16]}
});

// ---- panel D ----
const hi = grids.length;
grids.push({left: 1254, top: 196.5, width: 459, height: 457.5});
xAxes.push({gridIndex: hi, type: 'category', data: heatRows[0].map((v, c) => c), show: false});
yAxes.push({gridIndex: hi, type: 'category', inverse: true, position: 'right', data: heatGenes, axisLine: {show: false}, axisTick: {show: false}, axisLabel: {fontSize: 20, color: '#222', fontFamily: FONT, margin: 18, padding: [5, 0, 0, 0]}, splitLine: {show: false}});
const heatSeriesIndex = series.length;
series.push({type: 'heatmap', xAxisIndex: hi, yAxisIndex: hi, progressive: 0, silent: true,
  data: heatRows.flatMap((r, y) => r.map((v, x) => [x, y, v]))});

// group bar over the heatmap
const bi = grids.length;
grids.push({left: 1251, top: 176.5, width: 468, height: 14.5, show: true, borderColor: '#3a6ea5', borderWidth: 2});
xAxes.push({gridIndex: bi, type: 'value', min: 0, max: 34, show: false});
yAxes.push({gridIndex: bi, type: 'category', data: ['group'], show: false});
[['#0000f0'], ['#f00000'], ['#ff9a3c']].forEach((c, k) => {
  series.push({type: 'bar', name: heatGroups[k] + ' bar', xAxisIndex: bi, yAxisIndex: bi, stack: 'group', barWidth: '100%', silent: true, itemStyle: {color: c[0]}, data: [heatGroupSizes[k]]});
});

// colour ramp: purple to black over 7 steps, black to yellow over 13
const rampStops = [];
for (let k = 7; k > 0; k--) {
  rampStops.push('rgb(' + Math.round(92 * k / 7) + ',' + Math.round(20 * k / 7) + ',' + Math.round(153 * k / 7) + ')');
}
for (let k = 0; k <= 13; k++) {
  const c = Math.round(255 * k / 13);
  rampStops.push('rgb(' + c + ',' + c + ',0)');
}
const ci = grids.length;
grids.push({left: 1276.5, top: 60.5, width: 125.5, height: 1});
xAxes.push({gridIndex: ci, type: 'value', min: -1.66, max: 3.09, axisLine: {show: false}, splitLine: {show: false},
  axisTick: {customValues: heatTicks, length: 10, lineStyle: {color: '#222', width: 1.5}},
  axisLabel: {customValues: heatTicks, fontSize: 16, color: '#333', fontFamily: FONT, margin: 19}});
yAxes.push({gridIndex: ci, type: 'value', show: false});

keyBox(1692, 20, 30, 30, '#0000f0', 'BM-MSC');
keyBox(1692, 65, 30, 30, '#f00000', 'LMSC', 3);
keyBox(1692, 113, 30, 30, '#ff9a3c', 'AD-MSC', 3);
label('D', 1078, 28, 36);

// ---- panel E ----
const nameBold = {fontSize: 26, fontWeight: 'bold', color: '#222', fontFamily: FONT};
const ei = dotAxes({box: [1133, 989.4, 497, 315.6], xr: [.551, 3.466], yr: [0, 15], yStep: 5, digits: 0, groups: vstGroups,
  tickX: 14, tickY: 16, xFont: 24, yFont: 24, xMargin: 20, yMargin: 21, yName: 'Vst expression', yGap: 55, nameStyle: nameBold});
dots(ei, vstLmsc, 'circle', 11, RED);
dots(ei, vstBm, 'rect', 13, '#0d1fb0');
dots(ei, vstAd, 'triangle', 11, ORANGE);
errorBars(ei, vstErrLmsc, RED, 15, 9, 2.5);
errorBars(ei, vstErrBm, '#0d1fb0', 15, 9, 2.5);
errorBars(ei, vstErrAd, ORANGE, 15, 9, 2.5);
brackets(ei, vstBrackets, 3.5);
notes(ei, vstStars, {fontSize: 44, fontWeight: 'bold', color: '#111'});
keyBox(1694, 780, 30, 30, '#0000f0', 'BM-MSC', 1.5);
keyBox(1695, 826, 30, 30, '#f00000', 'LMSC', 3);
keyBox(1694, 876, 30, 30, '#ff9a3c', 'AD-MSC', 6);
label('E', 1068, 793, 36);

// ---- panel F ----
label('F', 1078, 1416, 36);
label('Validation at qPCR', 1335, 1415, 38, {fill: '#222'});
const qpcrName = {
  fontSize: 30, color: '#222', fontFamily: FONT,
  rich: {n: {fontSize: 30, color: '#222', fontFamily: FONT}, s: {fontSize: 20, color: '#222', fontFamily: FONT, verticalAlign: 'top', padding: [0, 0, 10, 0]}}
};
const qpcrBase = {groups: qpcrGroups, tickX: 11, tickY: 11, xFont: 22, yFont: 23, xMargin: 18, yMargin: 15, rotate: 45, nameStyle: qpcrName};
const note = {fontSize: 25, color: '#222'};

const ki = dotAxes(Object.assign({}, qpcrBase, {box: [1150, 1486, 382, 303], xr: [.506, 3.526], yr: [0, .4], yStep: .1, digits: 1, yName: '{n|KGF (2}{s|-ΔCt}{n|)}', yGap: 58}));
dots(ki, kgfLmsc, 'circle', 14, RED);
dots(ki, kgfBm, 'triangle', 14, BLUE);
dots(ki, kgfAd, 'rect', 13, ORANGE);
errorBars(ki, kgfErr.slice(0, 1), RED, 44, 23, 3);
errorBars(ki, kgfErr.slice(1, 2), BLUE, 44, 23, 3);
errorBars(ki, kgfErr.slice(2, 3), ORANGE, 44, 23, 3);
brackets(ki, kgfBrackets, 3);
notes(ki, kgfNotes, note);

const gi = dotAxes(Object.assign({}, qpcrBase, {box: [1150, 1930.6, 333, 311.1], xr: [.498, 3.527], yr: [0, .08], yStep: .02, digits: 2, yName: '{n|HGF (2}{s|-ΔCt}{n|)}', yGap: 84}));
dots(gi, hgfLmsc, 'circle', 14, RED);
dots(gi, hgfBm, 'triangle', 14, '#3c3ce0');
dots(gi, hgfAd, 'rect', 12, ORANGE);
errorBars(gi, hgfErr.slice(0, 1), RED, 37, 21, 4);
errorBars(gi, hgfErr.slice(1, 2), BLUE, 37, 21, 3);
errorBars(gi, hgfErr.slice(2, 3), ORANGE, 37, 21, 3);
brackets(gi, hgfBrackets, 4);
notes(gi, hgfNotes, note);

const fi = dotAxes(Object.assign({}, qpcrBase, {box: [1610.4, 1935.4, 343.6, 299.1], xr: [.512, 3.53], yr: [0, .06], yStep: .02, digits: 2, yName: '{n|FGF10 (2}{s|-ΔCt}{n|)}', yGap: 78}));
dots(fi, fgfLmsc, 'circle', 14, RED);
dots(fi, fgfBm, 'triangle', 7, BLUE);
dots(fi, fgfAd, 'rect', 8, ORANGE);
errorBars(fi, fgfErr, RED, 39, 21, 4);
notes(fi, fgfNotes, note);

const chart = echarts.init(document.getElementById('chart'), null, {width: 1960, height: 2340});
chart.setOption({
  animation: false,
  backgroundColor: '#fff',
  textStyle: {fontFamily: FONT},
  grid: grids, xAxis: xAxes, yAxis: yAxes, series: series,
  legend: [legendItem(412, 732, 22, 17), legendItem(414, 1519, 22, 17), legendItem(394, 2293, 20, 16.5)],
  visualMap: {
    type: 'continuous', seriesIndex: heatSeriesIndex, min: -1.66, max: 3.09, orient: 'horizontal',
    left: 1276.5, top: 19.5, itemWidth: 41, itemHeight: 125.5, padding: 0, calculable: false, hoverLink: false, realtime: false,
    text: null, showLabel: false, inRange: {color: rampStops}, textStyle: {fontSize: 0}
  },
  graphic: graphics
});
</script>
</body>
</html>
